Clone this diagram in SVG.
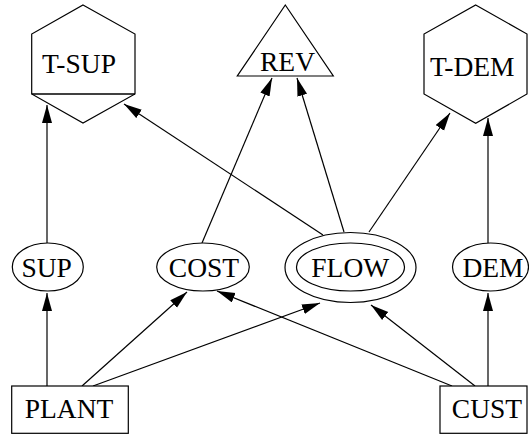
<svg xmlns="http://www.w3.org/2000/svg" width="529" height="434" viewBox="0 0 529 434">
<style>
.n{fill:#fff;stroke:#000;stroke-width:1.2}
.t{font-family:"Liberation Serif","Times New Roman",serif;font-size:27.5px;text-anchor:middle;fill:#000}
.e{stroke:#000;stroke-width:1.2;fill:none;marker-end:url(#a)}
</style>
<defs>
<marker id="a" markerUnits="userSpaceOnUse" markerWidth="20" markerHeight="12" refX="18" refY="5" orient="auto">
<path d="M0,0 L18,5 L0,10 Z" fill="#000"/>
</marker>
</defs>
<rect width="529" height="434" fill="#fff"/>
<g id="edges">
<line class="e" x1="47" y1="386" x2="47" y2="293"/>
<line class="e" x1="82" y1="386" x2="187" y2="292"/>
<line class="e" x1="93" y1="386" x2="320" y2="303"/>
<line class="e" x1="452" y1="386" x2="217" y2="291"/>
<line class="e" x1="475" y1="386" x2="371" y2="305"/>
<line class="e" x1="488" y1="386" x2="488" y2="293"/>
<line class="e" x1="47" y1="243" x2="47" y2="105"/>
<line class="e" x1="323" y1="235" x2="124" y2="104"/>
<line class="e" x1="202" y1="243" x2="272" y2="78"/>
<line class="e" x1="344" y1="232" x2="297" y2="78"/>
<line class="e" x1="369" y1="232" x2="450" y2="113"/>
<line class="e" x1="488" y1="243" x2="488" y2="118"/>
</g>
<g id="T-SUP">
<polygon class="n" points="83,5 135,34 135,94 83,123 31.7,94 31.7,34"/>
<line x1="31.7" y1="94" x2="135" y2="94" stroke="#000" stroke-width="1.4"/>
<text class="t" x="79" y="73">T-SUP</text>
</g>
<g id="REV">
<polygon class="n" points="285.3,5 333.3,76 237.3,76"/>
<text class="t" x="287.5" y="71">REV</text>
</g>
<g id="T-DEM">
<polygon class="n" points="475.7,5 527,34 527,94 475.7,123.3 424,94 424,34"/>
<text class="t" x="472.3" y="76">T-DEM</text>
</g>
<g id="SUP">
<ellipse class="n" cx="47.8" cy="267" rx="35.5" ry="24"/>
<text class="t" x="46.7" y="277">SUP</text>
</g>
<g id="COST">
<ellipse class="n" cx="203" cy="267" rx="46.3" ry="24"/>
<text class="t" x="204" y="277">COST</text>
</g>
<g id="FLOW">
<ellipse class="n" cx="350.5" cy="267.5" rx="65.5" ry="35"/>
<ellipse class="n" cx="350.5" cy="267" rx="54" ry="24"/>
<text class="t" x="350.3" y="277">FLOW</text>
</g>
<g id="DEM">
<ellipse class="n" cx="490.5" cy="267" rx="38" ry="24"/>
<text class="t" x="493" y="277">DEM</text>
</g>
<g id="PLANT">
<rect class="n" x="11.7" y="386" width="116.6" height="47.3"/>
<text class="t" x="69" y="418">PLANT</text>
</g>
<g id="CUST">
<rect class="n" x="440" y="386" width="87" height="47.3"/>
<text class="t" x="487" y="418">CUST</text>
</g>
</svg>
